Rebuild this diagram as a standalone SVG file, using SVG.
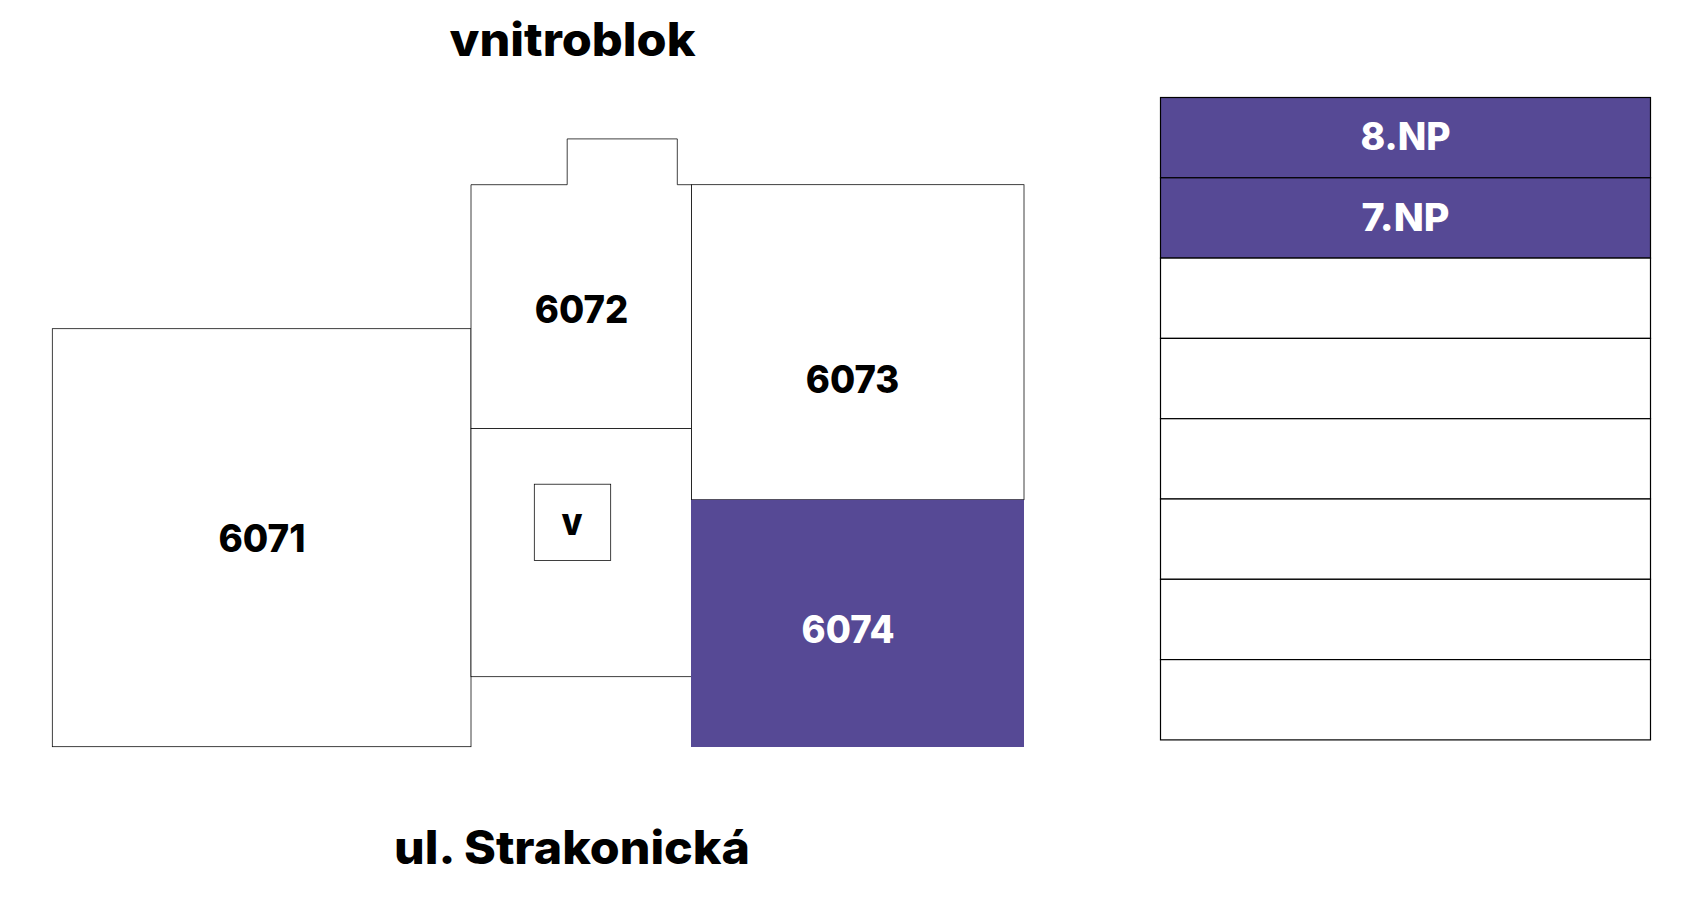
<svg xmlns="http://www.w3.org/2000/svg" width="1701" height="901" viewBox="0 0 1701 901">
<style>
.r{fill:#fff;stroke:#000;stroke-width:.75}
.p{fill:#564995;stroke:#000;stroke-width:1.2}
.e{fill:#fff;stroke:#000;stroke-width:1.2}
.u{fill:#564995;stroke:none}
text{font-family:"Inter","Liberation Sans",sans-serif;font-weight:800;fill:#000;text-anchor:start}
.n{font-size:38px}
.h{font-size:46px}
.w{fill:#fff}
</style>
<rect width="1701" height="901" fill="#fff"/>
<g id="unit-6071"><rect class="r" x="52.3" y="328.7" width="418.7" height="418"/><text class="n" x="218.5" y="552" textLength="87" lengthAdjust="spacingAndGlyphs">6071</text></g>
<g id="unit-6072"><path class="r" d="M471 428.5V184.7H567.2V138.9H677.3V184.7H691.5V428.5Z"/><text class="n" x="534.8" y="322.5" textLength="93.5" lengthAdjust="spacingAndGlyphs">6072</text></g>
<g id="core"><rect class="r" x="471" y="428.5" width="220.5" height="248.2"/><rect class="r" x="534.3" y="484.2" width="76.4" height="76.3"/><text class="n" x="561.5" y="535" textLength="21" lengthAdjust="spacingAndGlyphs">v</text></g>
<g id="unit-6073"><rect class="r" x="691.5" y="184.7" width="332.5" height="315"/><text class="n" x="805.8" y="393" textLength="93.5" lengthAdjust="spacingAndGlyphs">6073</text></g>
<g id="unit-6074"><rect class="u" x="691" y="499.8" width="333" height="247.2"/><text class="n w" x="801.6" y="643" textLength="93" lengthAdjust="spacingAndGlyphs">6074</text></g>
<g id="floors">
<g id="floor-8"><rect class="p" x="1160.5" y="97.5" width="490" height="80.3"/><text class="n w" x="1360.5" y="150" textLength="90" lengthAdjust="spacingAndGlyphs">8.NP</text></g>
<g id="floor-7"><rect class="p" x="1160.5" y="177.8" width="490" height="80.3"/><text class="n w" x="1361.5" y="231" textLength="88" lengthAdjust="spacingAndGlyphs">7.NP</text></g>
<rect id="floor-6" class="e" x="1160.5" y="258.1" width="490" height="80.3"/>
<rect id="floor-5" class="e" x="1160.5" y="338.4" width="490" height="80.3"/>
<rect id="floor-4" class="e" x="1160.5" y="418.7" width="490" height="80.3"/>
<rect id="floor-3" class="e" x="1160.5" y="499" width="490" height="80.3"/>
<rect id="floor-2" class="e" x="1160.5" y="579.3" width="490" height="80.3"/>
<rect id="floor-1" class="e" x="1160.5" y="659.6" width="490" height="80.3"/>
</g>
<text id="label-top" class="h" x="449.5" y="55.7" textLength="246" lengthAdjust="spacingAndGlyphs">vnitroblok</text>
<text id="label-bottom" class="h" x="394" y="864.3" textLength="356" lengthAdjust="spacingAndGlyphs">ul. Strakonická</text>
<g id="connectors"/>
</svg>
